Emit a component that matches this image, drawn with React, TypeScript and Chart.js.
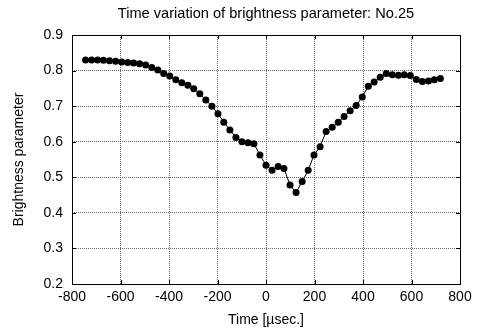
import React, { useEffect, useRef } from "react";
import { Chart, registerables } from "chart.js";

Chart.register(...registerables);

const titleText = "Time variation of brightness parameter: No.25";
const xTitle = "Time [\u00b5sec.]";
const yTitle = "Brightness parameter";

const times = [
  -744, -719, -694, -670, -645, -620, -595, -570, -546, -521,
  -496, -471, -446, -422, -397, -372, -347, -322, -298, -273,
  -248, -223, -198, -174, -149, -124, -99, -74, -50, -25,
  0, 25, 50, 74, 99, 124, 149, 174, 198, 223,
  248, 273, 298, 322, 347, 372, 397, 422, 446, 471,
  496, 521, 546, 570, 595, 620, 645, 670, 694, 719,
];

const brightness = [
  0.830, 0.830, 0.830, 0.829, 0.828, 0.826, 0.824, 0.823, 0.821, 0.819,
  0.816, 0.809, 0.802, 0.792, 0.785, 0.774, 0.766, 0.759, 0.749, 0.735,
  0.717, 0.700, 0.679, 0.655, 0.633, 0.612, 0.600, 0.597, 0.594, 0.563,
  0.534, 0.520, 0.530, 0.525, 0.478, 0.457, 0.488, 0.520, 0.563, 0.586,
  0.629, 0.641, 0.655, 0.671, 0.687, 0.702, 0.726, 0.756, 0.768, 0.781,
  0.792, 0.788, 0.787, 0.788, 0.786, 0.775, 0.769, 0.771, 0.774, 0.778,
];

const FONT = "'Liberation Sans', Arial, sans-serif";

const framePlugin = {
  id: "frame",
  beforeDatasetsDraw(chart: any) {
    const { ctx, chartArea, scales } = chart;
    const { left, right, top, bottom } = chartArea;
    ctx.save();
    ctx.strokeStyle = "#000";
    ctx.lineWidth = 1;
    ctx.setLineDash([]);
    ctx.beginPath();
    const tl = 4;
    scales.x.ticks.forEach((t: any) => {
      const px = Math.round(scales.x.getPixelForValue(t.value)) + 0.5;
      ctx.moveTo(px, bottom);
      ctx.lineTo(px, bottom - tl);
      ctx.moveTo(px, top);
      ctx.lineTo(px, top + tl);
    });
    scales.y.ticks.forEach((t: any) => {
      const py = Math.round(scales.y.getPixelForValue(t.value)) + 0.5;
      ctx.moveTo(left, py);
      ctx.lineTo(left + tl, py);
      ctx.moveTo(right, py);
      ctx.lineTo(right - tl, py);
    });
    ctx.stroke();
    ctx.strokeRect(Math.round(left) + 0.5, Math.round(top) + 0.5, Math.round(right - left), Math.round(bottom - top));
    ctx.restore();
  },
};

export default function App() {
  const ref = useRef<HTMLCanvasElement>(null);
  useEffect(() => {
    document.body.style.margin = "0";
    const canvas = ref.current!;
    const chart = new Chart(canvas, {
      type: "line",
      data: {
        datasets: [
          {
            data: times.map((t, i) => ({ x: t, y: brightness[i] })),
            borderColor: "#000",
            backgroundColor: "#000",
            borderWidth: 1,
            pointRadius: 3.5,
            pointBorderWidth: 0,
            pointBackgroundColor: "#000",
            tension: 0,
          },
        ],
      },
      options: {
        responsive: false,
        animation: false,
        layout: { padding: { left: 0, right: 17, top: 0, bottom: 0 } },
        plugins: {
          legend: { display: false },
          tooltip: { enabled: false },
          title: {
            display: true,
            fullSize: false,
            text: titleText,
            color: "#000",
            font: { family: FONT, size: 14.6, weight: "normal" },
            padding: { top: 5.5, bottom: 12 },
          },
        },
        scales: {
          x: {
            type: "linear",
            min: -800,
            max: 800,
            afterFit(scale: any) {
              scale.height = 50;
            },
            ticks: {
              stepSize: 200,
              color: "#000",
              padding: 5,
              font: { family: FONT, size: 14 },
              maxRotation: 0,
            },
            grid: {
              drawTicks: false,
              color: "#666",
              lineWidth: 1,
            },
            border: { display: false, dash: [1, 1] },
            title: {
              display: true,
              text: xTitle,
              color: "#000",
              font: { family: FONT, size: 14 },
              padding: { top: 0, bottom: 5 },
            },
          },
          y: {
            type: "linear",
            min: 0.2,
            max: 0.9,
            afterFit(scale: any) {
              scale.width = 72;
            },
            ticks: {
              stepSize: 0.1,
              color: "#000",
              padding: 9,
              font: { family: FONT, size: 14 },
              callback: (v: any) => Number(v).toFixed(1),
            },
            grid: {
              drawTicks: false,
              color: "#666",
              lineWidth: 1,
            },
            border: { display: false, dash: [1, 1] },
            title: {
              display: true,
              text: yTitle,
              color: "#000",
              font: { family: FONT, size: 14 },
              padding: { top: 11, bottom: 0 },
            },
          },
        },
      },
      plugins: [framePlugin],
    });
    return () => chart.destroy();
  }, []);
  return (
    <canvas
      ref={ref}
      width={477}
      height={334}
      style={{ display: "block", width: 477, height: 334 }}
    />
  );
}
